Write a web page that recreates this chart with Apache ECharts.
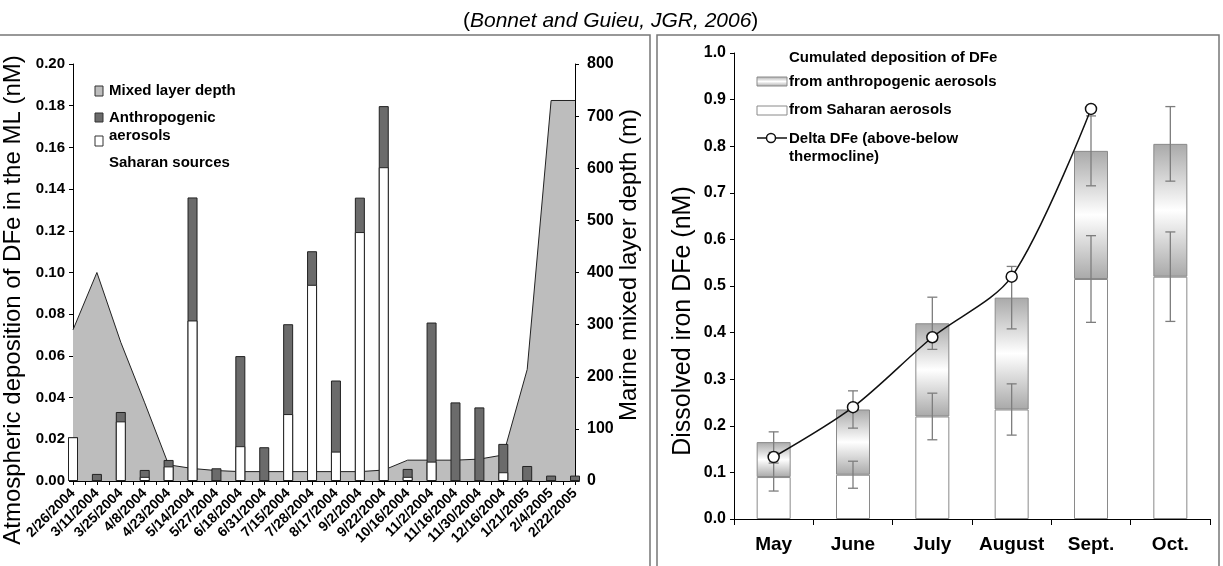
<!DOCTYPE html>
<html><head><meta charset="utf-8">
<script src="https://cdn.jsdelivr.net/npm/echarts@6/dist/echarts.min.js"></script>
<style>html,body{margin:0;padding:0;background:#fff}#c{width:1223px;height:566px}</style>
</head><body><div id="c"></div>
<script>
// ---------- Left panel data ----------
const dates = ['2/26/2004','3/11/2004','3/25/2004','4/8/2004','4/23/2004','5/14/2004','5/27/2004','6/18/2004','6/31/2004','7/15/2004','7/28/2004','8/17/2004','9/2/2004','9/22/2004','10/16/2004','11/2/2004','11/16/2004','11/30/2004','12/16/2004','1/21/2005','2/4/2005','2/22/2005'];
const saharanDep = [0.021,0,0.0286,0.002,0.007,0.077,0,0.0167,0,0.0321,0.0941,0.0141,0.1194,0.1505,0.002,0.0093,0,0,0.0042,0,0,0];
const totalDep   = [0.021,0.0034,0.0331,0.0053,0.0101,0.1360,0.0061,0.0599,0.0162,0.0752,0.1102,0.0482,0.1359,0.1798,0.0058,0.0760,0.0377,0.0353,0.0178,0.0072,0.0026,0.0026];
const mixedLayer = [290,400,266,150,31,24,20,18,18,18,18,18,18,21,40,40,40,42,50,214,730,730];
const leftTicks  = [0,0.02,0.04,0.06,0.08,0.10,0.12,0.14,0.16,0.18,0.20];
const depthTicks = [0,100,200,300,400,500,600,700,800];

// ---------- Right panel data ----------
const months = ['May','June','July','August','Sept.','Oct.'];
const saharanCum = [0.09,0.095,0.22,0.235,0.515,0.52];
const anthroCum  = [0.075,0.14,0.20,0.24,0.275,0.285];
const errTotal   = [0.022,0.04,0.056,0.067,0.075,0.08];
const errSaharan = [0.03,0.029,0.05,0.055,0.093,0.096];
const deltaDFe   = [0.133,0.24,0.39,0.52,0.88,null];
const rightTicks = [0,0.1,0.2,0.3,0.4,0.5,0.6,0.7,0.8,0.9,1.0];

const FONT = '"Liberation Sans", Arial, Helvetica, sans-serif';
const chart = echarts.init(document.getElementById('c'));

const errData = [];
months.forEach((m,i)=>{
  const tot = saharanCum[i] + anthroCum[i];
  errData.push([i, tot - errTotal[i], tot + errTotal[i]]);
  errData.push([i, saharanCum[i] - errSaharan[i], saharanCum[i] + errSaharan[i]]);
});

const anthroGrad = new echarts.graphic.LinearGradient(0,0,0,1,[
  {offset:0,color:'#a9a9a9'},{offset:0.5,color:'#ffffff'},{offset:1,color:'#a9a9a9'}]);

const boldLabel = (size)=>({color:'#000',fontWeight:'bold',fontSize:size,fontFamily:FONT});

const option = {
  backgroundColor:'#fff',
  animation:false,
  title:{
    text:'({i|Bonnet and Guieu, JGR, 2006})',
    left:458, top:6,
    textStyle:{fontSize:21,fontWeight:'normal',color:'#000',fontFamily:FONT,
      rich:{i:{fontStyle:'italic',fontSize:21,color:'#000',fontFamily:FONT}}}
  },
  grid:[
    {left:73, top:64, width:502, height:417},
    {left:734, top:53, width:476, height:466}
  ],
  xAxis:[
    {type:'value', gridIndex:0, min:0, max:dates.length-1, interval:1,
     axisLine:{show:true,lineStyle:{color:'#000',width:1}},
     axisTick:{show:true,inside:false,length:4,lineStyle:{color:'#000'}},
     minorTick:{show:true,splitNumber:2,length:4,lineStyle:{color:'#000'}},
     splitLine:{show:false}, minorSplitLine:{show:false},
     axisLabel:Object.assign(boldLabel(14),{rotate:45,margin:10,
        formatter:(v)=>dates[Math.round(v)]||''})},
    {type:'category', gridIndex:1, data:months, boundaryGap:true,
     axisLine:{lineStyle:{color:'#000',width:1}},
     axisTick:{show:true,inside:false,length:6,lineStyle:{color:'#000'}},
     axisLabel:Object.assign(boldLabel(19),{margin:16,interval:0})}
  ],
  yAxis:[
    {type:'value', gridIndex:0, min:0, max:leftTicks[leftTicks.length-1], interval:0.02, position:'left',
     axisLine:{show:true,lineStyle:{color:'#000'}},
     axisTick:{show:true,length:4,lineStyle:{color:'#000'}},
     splitLine:{show:false},
     axisLabel:Object.assign(boldLabel(15),{margin:8,formatter:(v)=>v.toFixed(2)})},
    {type:'value', gridIndex:0, min:0, max:depthTicks[depthTicks.length-1], interval:100, position:'right',
     axisLine:{show:true,lineStyle:{color:'#000'}},
     axisTick:{show:true,length:4,lineStyle:{color:'#000'}},
     splitLine:{show:false},
     axisLabel:Object.assign(boldLabel(16),{margin:12})},
    {type:'value', gridIndex:1, min:0, max:rightTicks[rightTicks.length-1], interval:0.1, position:'left',
     axisLine:{show:true,lineStyle:{color:'#000'}},
     axisTick:{show:true,length:4,lineStyle:{color:'#000'}},
     splitLine:{show:false},
     axisLabel:Object.assign(boldLabel(16),{margin:8,formatter:(v)=>v.toFixed(1)})}
  ],
  series:[
    {name:'Mixed layer depth', type:'line', xAxisIndex:0, yAxisIndex:1,
     data:mixedLayer.map((v,i)=>[i,v]), symbol:'none', z:1,
     lineStyle:{color:'#222',width:1}, areaStyle:{color:'#bdbdbd',opacity:1}},
    {name:'Anthropogenic aerosols', type:'bar', xAxisIndex:0, yAxisIndex:0, barWidth:10, z:2,
     data:totalDep.map((v,i)=>[i,v]),
     itemStyle:{color:'#6b6b6b',borderColor:'#222',borderWidth:1}},
    {name:'Saharan sources', type:'bar', xAxisIndex:0, yAxisIndex:0, barWidth:10, barGap:'-100%', z:3,
     data:saharanDep.map((v,i)=>[i,v]),
     itemStyle:{color:'#ffffff',borderColor:'#222',borderWidth:1}},

    {name:'from Saharan aerosols', type:'bar', xAxisIndex:1, yAxisIndex:2, stack:'cum', barWidth:34,
     data:saharanCum, itemStyle:{color:'#ffffff',borderColor:'#8a8a8a',borderWidth:1}},
    {name:'from anthropogenic aerosols', type:'bar', xAxisIndex:1, yAxisIndex:2, stack:'cum', barWidth:34,
     data:anthroCum, itemStyle:{color:anthroGrad,borderColor:'#8a8a8a',borderWidth:1}},
    {name:'errors', type:'custom', xAxisIndex:1, yAxisIndex:2, z:4,
     data:errData, encode:{x:0,y:[1,2]},
     renderItem:(params,api)=>{
       const x = api.value(0);
       const lo = api.coord([x, api.value(1)]);
       const hi = api.coord([x, api.value(2)]);
       const w = 5;
       const st = {stroke:'#7d7d7d',lineWidth:1.3};
       return {type:'group',children:[
         {type:'line',shape:{x1:lo[0],y1:lo[1],x2:hi[0],y2:hi[1]},style:st},
         {type:'line',shape:{x1:lo[0]-w,y1:lo[1],x2:lo[0]+w,y2:lo[1]},style:st},
         {type:'line',shape:{x1:hi[0]-w,y1:hi[1],x2:hi[0]+w,y2:hi[1]},style:st}
       ]};
     }},
    {name:'Delta DFe', type:'line', xAxisIndex:1, yAxisIndex:2, z:6,
     data:deltaDFe, smooth:0.3, symbol:'circle', symbolSize:11,
     lineStyle:{color:'#111',width:1.5},
     itemStyle:{color:'#ffffff',borderColor:'#111',borderWidth:1.5}}
  ],
  graphic:[
    // panel frames
    {type:'polyline',shape:{points:[[0,35],[650,35],[650,566]]},style:{stroke:'#777',lineWidth:1.5,fill:null}},
    {type:'polyline',shape:{points:[[657,566],[657,35],[1219,35],[1219,566]]},style:{stroke:'#777',lineWidth:1.5,fill:null}},
    // axis titles
    {type:'text',x:13,y:300,rotation:Math.PI/2,style:{text:'Atmospheric deposition of DFe in the ML (nM)',
      font:'24px '+FONT,fill:'#000',align:'center',verticalAlign:'middle'}},
    {type:'text',x:629,y:265,rotation:Math.PI/2,style:{text:'Marine mixed layer depth (m)',
      font:'24px '+FONT,fill:'#000',align:'center',verticalAlign:'middle'}},
    {type:'text',x:683,y:321,rotation:Math.PI/2,style:{text:'Dissolved iron DFe (nM)',
      font:'25px '+FONT,fill:'#000',align:'center',verticalAlign:'middle'}},
    // left legend
    {type:'rect',shape:{x:95,y:86,width:8,height:10},style:{fill:'#bdbdbd',stroke:'#333',lineWidth:1}},
    {type:'text',x:109,y:91,style:{text:'Mixed layer depth',font:'bold 15px '+FONT,fill:'#000',verticalAlign:'middle'}},
    {type:'rect',shape:{x:95,y:113,width:8,height:9},style:{fill:'#6b6b6b',stroke:'#333',lineWidth:1}},
    {type:'text',x:109,y:118,style:{text:'Anthropogenic',font:'bold 15px '+FONT,fill:'#000',verticalAlign:'middle'}},
    {type:'rect',shape:{x:95,y:136,width:8,height:10},style:{fill:'#ffffff',stroke:'#333',lineWidth:1}},
    {type:'text',x:109,y:136,style:{text:'aerosols',font:'bold 15px '+FONT,fill:'#000',verticalAlign:'middle'}},
    {type:'text',x:109,y:163,style:{text:'Saharan sources',font:'bold 15px '+FONT,fill:'#000',verticalAlign:'middle'}},
    // right legend
    {type:'text',x:789,y:58,style:{text:'Cumulated deposition of DFe',font:'bold 15px '+FONT,fill:'#000',verticalAlign:'middle'}},
    {type:'rect',shape:{x:757,y:77,width:30,height:9},style:{fill:anthroGrad,stroke:'#8a8a8a',lineWidth:1}},
    {type:'text',x:789,y:82,style:{text:'from anthropogenic aerosols',font:'bold 15px '+FONT,fill:'#000',verticalAlign:'middle'}},
    {type:'rect',shape:{x:757,y:106,width:30,height:9},style:{fill:'#ffffff',stroke:'#8a8a8a',lineWidth:1}},
    {type:'text',x:789,y:110,style:{text:'from Saharan aerosols',font:'bold 15px '+FONT,fill:'#000',verticalAlign:'middle'}},
    {type:'line',shape:{x1:757,y1:138,x2:787,y2:138},style:{stroke:'#111',lineWidth:1.5}},
    {type:'circle',shape:{cx:771,cy:138,r:4.5},style:{fill:'#fff',stroke:'#111',lineWidth:1.5}},
    {type:'text',x:789,y:139,style:{text:'Delta DFe (above-below',font:'bold 15px '+FONT,fill:'#000',verticalAlign:'middle'}},
    {type:'text',x:789,y:157,style:{text:'thermocline)',font:'bold 15px '+FONT,fill:'#000',verticalAlign:'middle'}}
  ]
};
chart.setOption(option);
</script>
</body></html>
